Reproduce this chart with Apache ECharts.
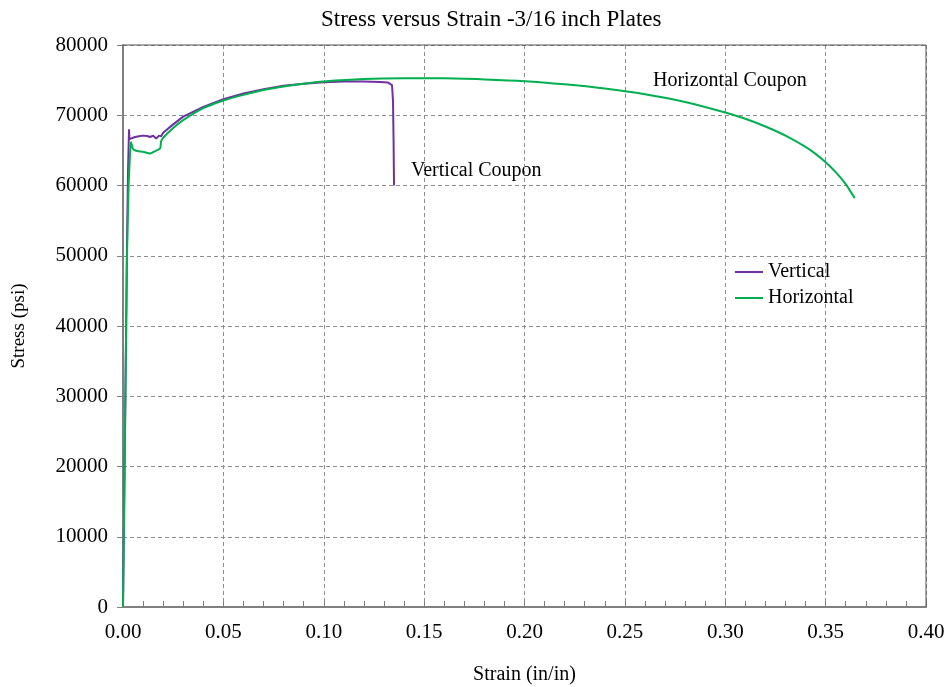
<!DOCTYPE html>
<html>
<head>
<meta charset="utf-8">
<script src="https://cdn.jsdelivr.net/npm/echarts@6/dist/echarts.min.js"></script>
<style>
html,body{margin:0;padding:0;background:#fff;}
#chart{width:946px;height:687px;}
</style>
</head>
<body>
<div id="chart"></div>
<script>
// Vertical coupon: [strain (in/in), stress (psi)]
var verticalData = [
  [0,0],[0.0005,12000],[0.001,25000],[0.0015,38000],[0.002,52000],[0.0025,62000],
  [0.003,68000],[0.0032,66600],[0.004,66800],[0.006,66900],[0.008,67000],[0.01,67100],
  [0.012,67050],[0.0135,66900],[0.015,67100],[0.0165,66700],[0.018,67100],[0.019,67000],
  [0.02,67500],[0.025,68700],[0.03,69800],[0.04,71200],[0.05,72300],[0.06,73100],
  [0.07,73700],[0.08,74200],[0.09,74500],[0.10,74700],[0.11,74800],[0.12,74800],
  [0.128,74750],[0.132,74650],[0.134,74300],[0.1345,72000],[0.1348,66000],[0.135,60000]
];
// Horizontal coupon
var horizontalData = [
  [0,0],[0.001,25000],[0.002,50000],[0.0028,60000],[0.0035,64500],[0.004,66200],
  [0.005,65200],[0.007,64900],[0.01,64800],[0.0135,64550],[0.016,64900],[0.0185,65300],
  [0.019,66300],[0.02,66800],[0.025,68200],[0.03,69300],[0.04,71000],[0.05,72100],
  [0.06,72900],[0.07,73600],[0.08,74100],[0.09,74500],[0.10,74800],[0.12,75150],
  [0.14,75250],[0.16,75250],[0.18,75100],[0.20,74850],[0.22,74400],[0.24,73800],
  [0.26,73000],[0.28,71900],[0.30,70400],[0.31,69500],[0.32,68400],[0.33,67100],
  [0.34,65500],[0.345,64500],[0.35,63300],[0.355,61900],[0.36,60200],[0.3645,58200]
];
var seriesNames = ['Vertical', 'Horizontal'];
var chartTitle = 'Stress versus Strain -3/16 inch Plates';
var xAxisName = 'Strain (in/in)';
var yAxisName = 'Stress (psi)';
var annotations = ['Vertical Coupon', 'Horizontal Coupon'];

var FONT = '"Liberation Serif", "Times New Roman", serif';
var chart = echarts.init(document.getElementById('chart'), null, {renderer: 'canvas'});
chart.setOption({
  backgroundColor: '#fff',
  animation: false,
  title: {
    text: chartTitle, left: 316, top: 3,
    textStyle: {fontFamily: FONT, fontSize: 23, fontWeight: 'normal', color: '#000'}
  },
  grid: {left: 123, right: 20, top: 45, bottom: 80, containLabel: false, outerBoundsMode: 'none'},
  legend: {
    orient: 'vertical', left: 730, top: 257,
    icon: 'rect', itemWidth: 28, itemHeight: 2, itemGap: 6,
    textStyle: {fontFamily: FONT, fontSize: 20, color: '#000', lineHeight: 20},
    data: seriesNames
  },
  xAxis: {
    type: 'value', min: 0, max: 0.4, interval: 0.05,
    name: xAxisName, nameLocation: 'middle', nameGap: 58,
    nameTextStyle: {fontFamily: FONT, fontSize: 20, color: '#000'},
    axisLine: {onZero: false, lineStyle: {color: '#808080', width: 2}},
    axisTick: {show: true, inside: true, length: 6, lineStyle: {color: '#808080'}},
    minorTick: {show: true, splitNumber: 5, length: 6, lineStyle: {color: '#808080'}},
    axisLabel: {fontFamily: FONT, fontSize: 21, color: '#000', margin: 15,
      formatter: function (v) { return v.toFixed(2); }},
    splitLine: {show: true, lineStyle: {color: '#8c8c8c', type: [4, 3], width: 1}}
  },
  yAxis: {
    type: 'value', min: 0, max: 80000, interval: 10000,
    name: yAxisName, nameLocation: 'middle', nameGap: 94,
    nameTextStyle: {fontFamily: FONT, fontSize: 19, color: '#000'},
    axisLine: {show: true, lineStyle: {color: '#808080', width: 2}},
    axisTick: {show: true, inside: false, length: 6, lineStyle: {color: '#808080'}},
    axisLabel: {fontFamily: FONT, fontSize: 21, color: '#000', margin: 15,
      formatter: function (v) { return String(v); }},
    splitLine: {show: true, lineStyle: {color: '#8c8c8c', type: [4, 3], width: 1}}
  },
  graphic: [
    {type: 'text', left: 411, top: 161, style: {text: annotations[0], font: '20px ' + FONT, fill: '#000'}},
    {type: 'text', left: 653, top: 71, style: {text: annotations[1], font: '20px ' + FONT, fill: '#000'}},
    {type: 'line', shape: {x1: 123, y1: 45, x2: 926, y2: 45}, style: {stroke: '#555', lineWidth: 1}, z: 1},
    {type: 'line', shape: {x1: 926, y1: 45, x2: 926, y2: 607}, style: {stroke: '#555', lineWidth: 1}, z: 1}
  ],
  series: [
    {name: seriesNames[0], type: 'line', data: verticalData, symbol: 'none',
      lineStyle: {color: '#7030A0', width: 2}, itemStyle: {color: '#7030A0'}},
    {name: seriesNames[1], type: 'line', data: horizontalData, symbol: 'none', smooth: 0.2,
      lineStyle: {color: '#00B050', width: 2}, itemStyle: {color: '#00B050'}}
  ]
});
</script>
</body>
</html>
